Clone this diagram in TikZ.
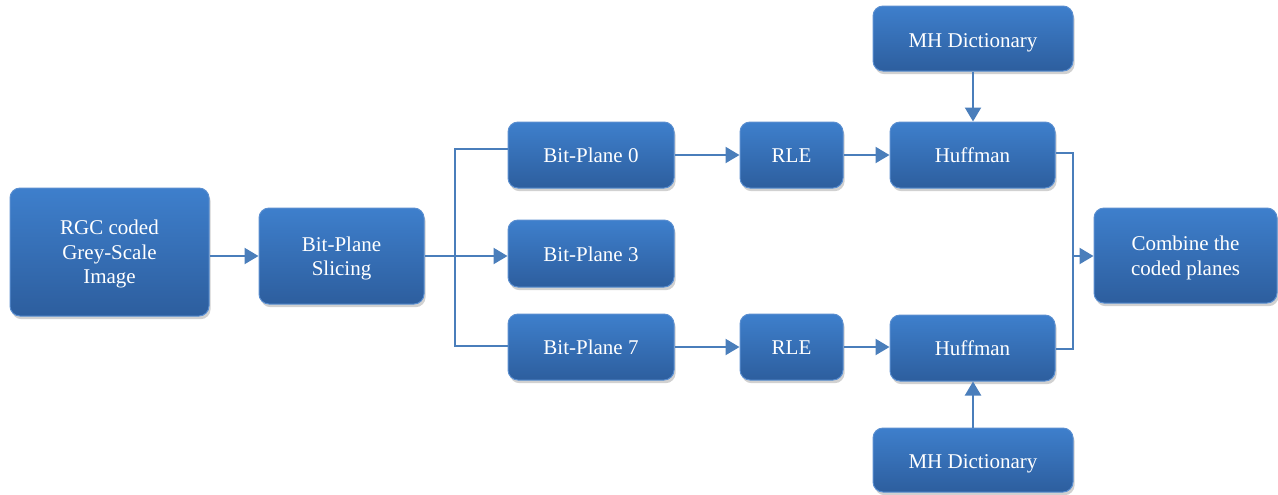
\documentclass[tikz,border=0pt]{standalone}
\usepackage{fontspec}
\setmainfont{Liberation Serif}
\usetikzlibrary{arrows.meta,shadows}
\definecolor{boxtop}{HTML}{3E7FCC}
\definecolor{boxbot}{HTML}{2D5E9E}
\definecolor{boxedge}{HTML}{5A8ED0}
\definecolor{linec}{HTML}{4A7EBB}
\tikzset{
  box/.style={rounded corners=5pt, draw=boxedge, line width=0.5pt,
    top color=boxtop, bottom color=boxbot, inner sep=0pt,
    drop shadow={shadow xshift=0.8pt, shadow yshift=-1.6pt, opacity=0.3, fill=black!60}},
  txt/.style={text=white, font=\fontsize{10.5}{12.25}\selectfont, align=center, inner sep=0pt, yshift=-1.2pt},
  txtone/.style={txt, yshift=1pt},
  conn/.style={draw=linec, line width=1.1pt},
  arr/.style={conn, -{Triangle[length=7pt,width=8pt]}}
}
\begin{document}
\begin{tikzpicture}[x=0.5pt,y=-0.5pt]
\useasboundingbox (0,0) rectangle (1278,494);
\node[box, minimum width=99.5pt, minimum height=64pt, label={[txt]center:RGC coded\\Grey-Scale\\Image}] (rgc) at (109.5,252) {};
\node[box, minimum width=82.5pt, minimum height=48pt, label={[txt]center:Bit-Plane\\Slicing}] (bps) at (341.5,256) {};
\node[box, minimum width=83pt, minimum height=33pt, label={[txtone]center:Bit-Plane 0}] (bp0) at (591,155) {};
\node[box, minimum width=83pt, minimum height=33.5pt, label={[txtone]center:Bit-Plane 3}] (bp3) at (591,253.5) {};
\node[box, minimum width=83pt, minimum height=33pt, label={[txtone]center:Bit-Plane 7}] (bp7) at (591,347) {};
\node[box, minimum width=51.5pt, minimum height=33pt, label={[txtone]center:RLE}] (rle0) at (791.5,155) {};
\node[box, minimum width=51.5pt, minimum height=33pt, label={[txtone]center:RLE}] (rle7) at (791.5,347) {};
\node[box, minimum width=82.5pt, minimum height=33pt, label={[txtone]center:Huffman}] (huf0) at (972.5,155) {};
\node[box, minimum width=82.5pt, minimum height=33pt, label={[txtone]center:Huffman}] (huf7) at (972.5,348) {};
\node[box, minimum width=100pt, minimum height=32.5pt, label={[txt, yshift=-0.8pt]center:MH Dictionary}] (mh0) at (973,38.5) {};
\node[box, minimum width=100pt, minimum height=32pt, label={[txt, yshift=-0.8pt]center:MH Dictionary}] (mh7) at (973,460) {};
\node[box, minimum width=91.5pt, minimum height=47.5pt, label={[txt]center:Combine the\\coded planes}] (comb) at (1185.5,255.5) {};
% connectors
\draw[arr] (rgc.east |- bps.west) -- (bps.west);
\draw[arr] (bps.east) -- (bps.east -| bp3.west);
\coordinate (st) at (455,149);
\coordinate (sb) at (455,346);
\draw[conn] (bp0.west |- st) -- (st) -- (sb) -- (bp7.west |- sb);
\draw[arr] (bp0.east) -- (rle0.west);
\draw[arr] (rle0.east) -- (huf0.west);
\draw[arr] (bp7.east) -- (rle7.west);
\draw[arr] (rle7.east) -- (rle7.east -| huf7.west);
\draw[arr] (mh0.south) -- (huf0.north -| mh0.south);
\draw[arr] (mh7.north) -- (huf7.south -| mh7.north);
\coordinate (mt) at (1073,153);
\coordinate (mb) at (1073,349);
\coordinate (mm) at (1073,256);
\draw[conn] (huf0.east |- mt) -- (mt) -- (mb) -- (huf7.east |- mb);
\draw[arr] (mm) -- (mm -| comb.west);
\end{tikzpicture}
\end{document}
